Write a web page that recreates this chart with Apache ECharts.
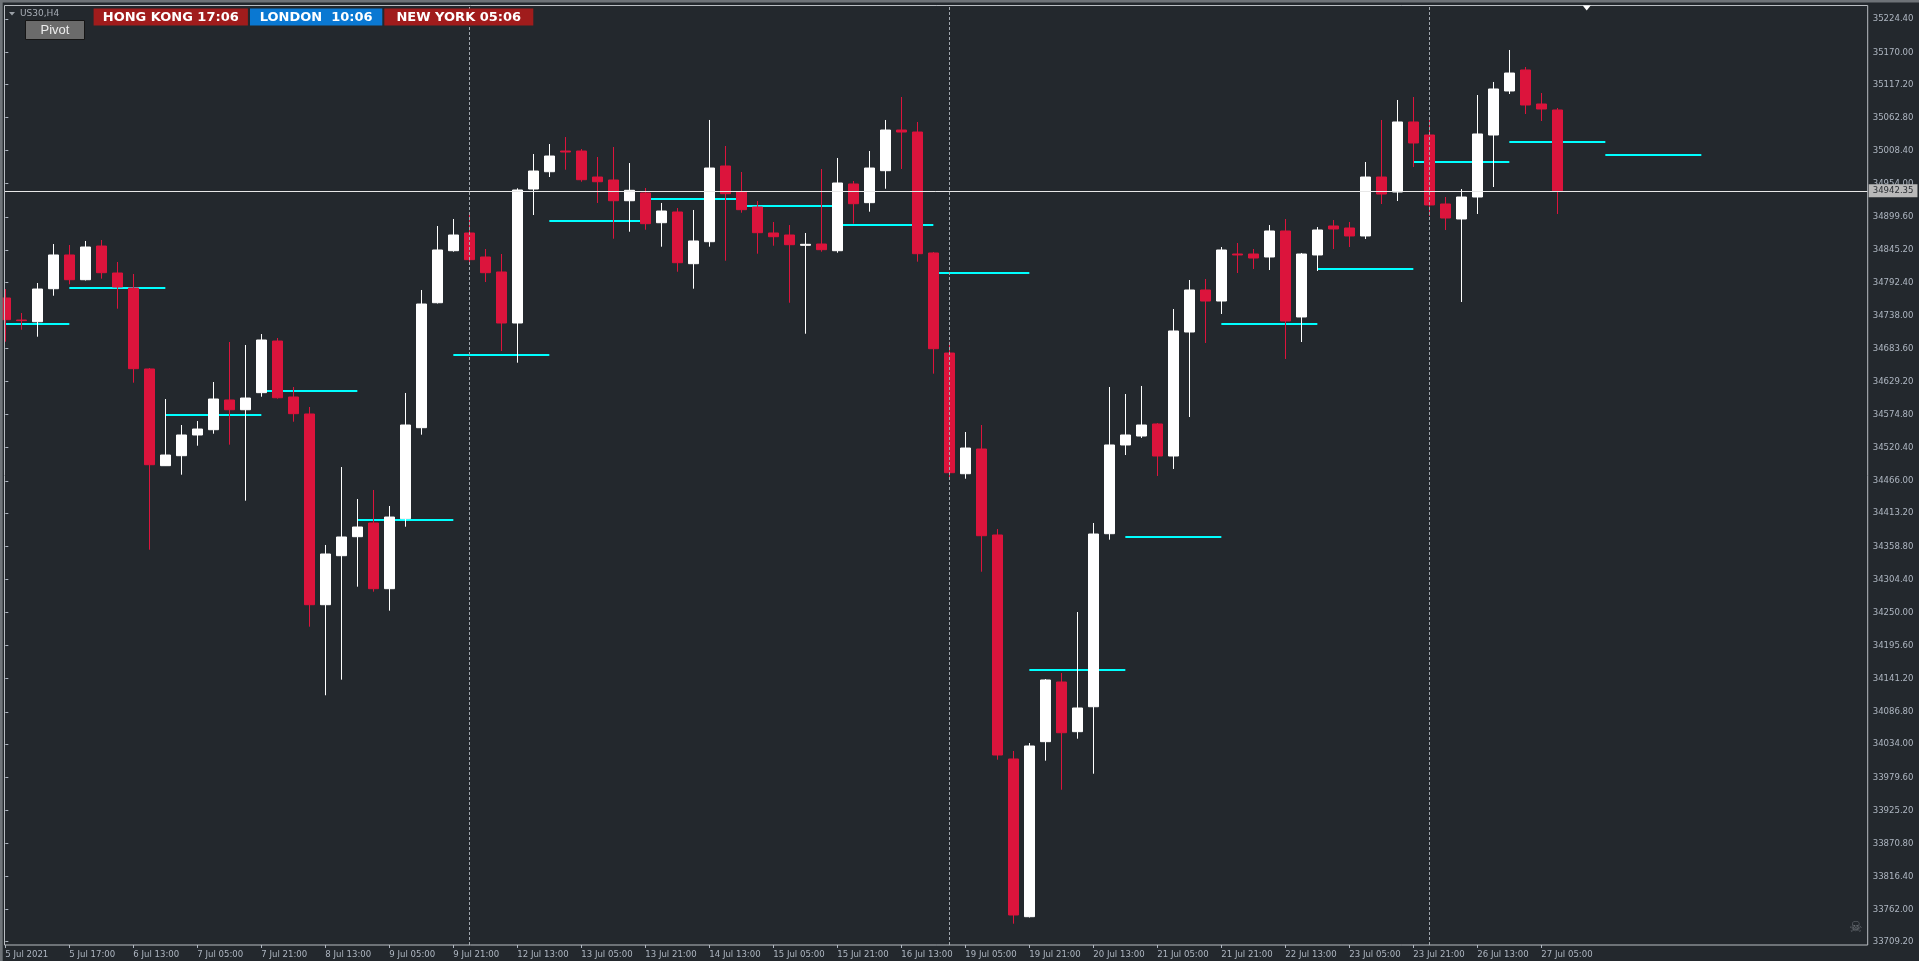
<!DOCTYPE html>
<html><head><meta charset="utf-8">
<script src="https://cdn.jsdelivr.net/npm/echarts@6/dist/echarts.min.js"></script>
<style>html,body{margin:0;padding:0;background:#23282d;overflow:hidden}#c{width:1919px;height:961px}</style>
</head><body><div id="c"></div>
<script>
// ---- data (US30, H4) ----
const opens = [34766.3,34730.1,34727.3,34781.5,34836.9,34796.3,34851.6,34807.3,34782.7,34649.7,
34490.9,34507.3,34541.3,34550.0,34598.8,34582.8,34610.8,34695.6,34603.7,34575.8,
34262.6,34343.1,34374.3,34396.8,34288.9,34403.8,34553.3,34758.5,34843.9,34873.0,
34833.6,34809.0,34725.2,34945.2,34973.6,35007.6,35007.6,34964.9,34960.0,34926.0,
34938.7,34889.9,34907.5,34822.6,34858.7,34983.0,34940.3,34915.7,34873.0,34869.7,
34852.8,34854.9,34843.9,34953.5,34922.8,34975.3,35042.1,35038.8,34840.2,34675.9,
34477.7,34518.3,34377.1,34009.3,33750.3,34037.7,34135.7,34054.1,34095.1,34379.2,
34524.9,34539.6,34559.4,34506.8,34710.4,34779.4,34761.3,34838.5,34838.5,34833.6,
34876.3,34735.1,34836.9,34884.5,34881.2,34868.1,34964.9,34940.3,35055.3,35033.9,
34920.6,34896.0,34932.1,35033.9,35106.2,35140.7,35084.8,35075.0];
const closes = [34730.6,34729.1,34781.0,34836.9,34796.3,34850.0,34807.8,34784.3,34650.2,34492.5,
34508.4,34541.3,34551.1,34600.4,34582.8,34602.0,34697.3,34602.5,34576.3,34262.6,
34345.9,34373.8,34390.2,34288.9,34406.6,34557.7,34756.4,34845.1,34869.7,34829.2,
34807.8,34725.2,34943.6,34974.8,34999.4,35006.0,34960.5,34957.2,34926.0,34943.1,
34888.3,34909.1,34824.2,34859.9,34979.7,34937.5,34911.3,34873.5,34866.9,34853.8,
34854.4,34845.6,34955.1,34921.1,34979.7,35042.1,35038.8,34839.0,34683.0,34479.4,
34519.9,34375.9,34015.8,33753.1,34030.6,34139.0,34052.4,34093.0,34378.7,34524.9,
34541.3,34557.7,34506.8,34712.1,34779.4,34761.3,34845.1,34836.9,34831.9,34876.3,
34728.5,34838.5,34877.9,34879.6,34868.1,34964.9,34937.0,35055.3,35020.8,34919.0,
34897.6,34932.1,35035.6,35109.5,35135.7,35083.2,35076.6,34942.35];
const lows = [34694.5,34714.2,34702.7,34770.0,34788.8,34795.0,34798.0,34748.7,34627.2,34352.9,
34490.4,34476.1,34523.7,34543.4,34525.4,34433.4,34604.2,34600.9,34563.1,34226.5,
34113.9,34139.5,34292.2,34284.0,34252.8,34390.7,34541.8,34757.2,34842.3,34825.4,
34792.5,34679.2,34660.0,34902.5,34964.9,34976.9,34957.2,34922.3,34863.6,34875.1,
34878.4,34850.5,34809.4,34781.5,34850.5,34827.5,34906.3,34839.0,34852.1,34758.5,
34707.6,34842.3,34840.6,34888.3,34908.0,34945.7,34978.1,34825.9,34642.0,34467.4,
34469.5,34316.8,34008.1,33738.8,33749.0,34006.5,33958.8,34042.6,33985.1,34369.4,
34508.4,34536.4,34474.0,34485.5,34570.8,34692.4,34740.0,34807.3,34813.9,34812.2,
34666.1,34694.0,34810.6,34846.7,34850.0,34863.1,34920.6,34925.5,34981.4,34900.9,
34877.9,34759.7,34904.2,34948.5,35101.2,35068.4,35056.9,34904.2];
const highs = [34781.0,34741.6,34790.9,34854.9,34853.3,34859.9,34861.5,34825.4,34805.7,34651.3,
34600.4,34557.7,34564.3,34628.3,34694.0,34689.1,34707.1,34700.6,34620.1,34587.3,
34360.7,34488.7,34436.2,34451.0,34424.7,34610.3,34779.4,34884.5,34896.0,34905.8,
34846.7,34838.5,34946.4,35002.7,35019.1,35030.6,35010.9,34997.8,35014.2,34987.9,
34946.9,34922.3,34914.0,34910.8,35058.6,35015.9,34973.2,34925.5,34891.1,34886.1,
34873.0,34978.1,34996.2,34958.4,35007.6,35058.6,35096.3,35055.3,34841.8,34694.5,
34546.2,34557.7,34386.9,34022.4,34035.5,34140.6,34150.5,34250.6,34396.8,34620.1,
34608.6,34621.8,34561.0,34748.2,34795.8,34797.5,34850.0,34856.6,34846.7,34886.1,
34896.0,34840.2,34882.8,34894.3,34891.1,34989.6,35058.6,35091.4,35096.3,35061.8,
34932.1,34945.2,35099.6,35121.0,35173.5,35145.6,35102.9,35078.3];

const xTickIndex = [0,4,8,12,16,20,24,28,32,36,40,44,48,52,56,60,64,68,72,76,80,84,88,92,96];
const xTickLabels = ["5 Jul 2021","5 Jul 17:00","6 Jul 13:00","7 Jul 05:00","7 Jul 21:00","8 Jul 13:00",
"9 Jul 05:00","9 Jul 21:00","12 Jul 13:00","13 Jul 05:00","13 Jul 21:00","14 Jul 13:00","15 Jul 05:00",
"15 Jul 21:00","16 Jul 13:00","19 Jul 05:00","19 Jul 21:00","20 Jul 13:00","21 Jul 05:00","21 Jul 21:00",
"22 Jul 13:00","23 Jul 05:00","23 Jul 21:00","26 Jul 13:00","27 Jul 05:00"];
const yTickValues = [35224.40,35170.00,35117.20,35062.80,35008.40,34954.00,34899.60,34845.20,34792.40,
34738.00,34683.60,34629.20,34574.80,34520.40,34466.00,34413.20,34358.80,34304.40,34250.00,34195.60,
34141.20,34086.80,34034.00,33979.60,33925.20,33870.80,33816.40,33762.00,33709.20];

const pivotStart = [-2,4,10,16,22,28,34,40,46,52,58,64,70,76,82,88,94,100];
const pivotEnd   = [4,10,16,22,28,34,40,46,52,58,64,70,76,82,88,94,100,106];
const pivotPrice = [34723.6,34783.2,34574.1,34614.0,34402.2,34673.2,34892.7,34928.8,34917.3,
34886.1,34807.3,34155.4,34373.8,34723.6,34813.9,34989.6,35022.4,35000.4];

const separators = [29,59,89];
const lastPrice = 34942.35;
const symbolLabel = "US30,H4";
const buttonLabel = "Pivot";
const clockLabels = ["HONG KONG 17:06", "LONDON  10:06", "NEW YORK 05:06"];

// ---- chart ----
const NARROW = "'DejaVu Sans Condensed','Liberation Sans Narrow',sans-serif";
const AX = '#aeb6c1';
const chart = echarts.init(document.getElementById('c'), null, {renderer:'canvas', width:1919, height:961});
const candleData = opens.map((o,i)=>[i,o,closes[i],lows[i],highs[i]]);
const pivotData = pivotPrice.map((p,i)=>[pivotStart[i], pivotEnd[i], p]);

const clockBoxes = [
  {x:93.6, w:154.3, fill:'#a01c1c'},
  {x:250, w:132.3, fill:'#0a78d2'},
  {x:384.3, w:149, fill:'#a01c1c'}
];
const graphics = [
  {type:'rect', shape:{x:0,y:0,width:1919,height:2.5}, style:{fill:'#6e7378'}, z:200, silent:true},
  {type:'rect', shape:{x:0,y:0,width:2.7,height:961}, style:{fill:'#6e7378'}, z:200, silent:true},
  {type:'rect', shape:{x:4.5,y:5.5,width:1863.2,height:939.5}, style:{fill:null, stroke:'#b9bdc2', lineWidth:1}, z:150, silent:true},
  {type:'polygon', shape:{points:[[9,12],[15,12],[12,15.5]]}, style:{fill:'#9aa0a6'}, z:200, silent:true},
  {type:'text', x:20, y:14, style:{text:symbolLabel, fill:'#a7adb5', font:"9px 'DejaVu Sans'", verticalAlign:'middle'}, z:200, silent:true},
  {type:'rect', shape:{x:25.5,y:20.5,width:59,height:19}, style:{fill:'#6b6b6b', stroke:'#151515', lineWidth:1}, z:200, silent:true},
  {type:'text', x:55, y:30.5, style:{text:buttonLabel, fill:'#ececec', font:"13px 'Liberation Sans'", align:'center', verticalAlign:'middle'}, z:201, silent:true},
  {type:'polygon', shape:{points:[[1582.7,5.5],[1590.7,5.5],[1586.7,10.5]]}, style:{fill:'#ffffff'}, z:200, silent:true},
  {type:'text', x:1855.7, y:928, style:{text:'\u2620', fill:'#6a6f75', font:"15px 'DejaVu Sans'", align:'center', verticalAlign:'middle'}, z:200, silent:true}
];
clockBoxes.forEach((b,i)=>{
  graphics.push({type:'rect', shape:{x:b.x,y:8.5,width:b.w,height:17}, style:{fill:b.fill}, z:200, silent:true});
  graphics.push({type:'text', x:b.x+b.w/2, y:17.2, style:{text:clockLabels[i], fill:'#ffffff', font:"bold 13px 'DejaVu Sans'", align:'center', verticalAlign:'middle'}, z:201, silent:true});
});

const option = {
  backgroundColor:'#23282d',
  animation:false,
  grid:{left:4, right:51.3, top:5.5, bottom:16, show:false},
  xAxis:{
    type:'value', min:-0.0833, max:116.398,
    axisLine:{show:false}, splitLine:{show:false},
    axisTick:{show:true, customValues:xTickIndex, length:3, lineStyle:{color:AX}},
    axisLabel:{customValues:xTickIndex, align:'left', margin:5, color:AX, fontFamily:NARROW, fontSize:9.5,
      formatter:(v)=>{const k=xTickIndex.indexOf(Math.round(v)); return k>=0?xTickLabels[k]:'';}}
  },
  yAxis:{
    type:'value', position:'right', min:33703.82, max:35246.57,
    axisLine:{show:false}, splitLine:{show:false},
    axisTick:{show:true, customValues:yTickValues, length:3, lineStyle:{color:AX}},
    axisLabel:{customValues:yTickValues, margin:5, color:AX, fontFamily:NARROW, fontSize:9.5,
      formatter:(v)=>Number(v).toFixed(2)}
  },
  series:[
    {
      type:'custom', z:1, silent:true, clip:true,
      data:pivotData, encode:{x:[0,1], y:2},
      renderItem:(params, api)=>{
        const a = api.coord([api.value(0), api.value(2)]);
        const b = api.coord([api.value(1), api.value(2)]);
        const y = Math.round(a[1]);
        return {type:'line', shape:{x1:a[0], y1:y, x2:b[0], y2:y}, style:{stroke:'#00ffff', lineWidth:2}};
      }
    },
    {
      type:'line', z:2, data:[], silent:true,
      markLine:{
        silent:true, symbol:['none','none'], animation:false,
        data:[
          ...separators.map(s=>({xAxis:s, label:{show:false}, lineStyle:{color:'#a3a9b0', type:[3,2], width:1}})),
          {yAxis:lastPrice, lineStyle:{color:'#e8e8e8', type:'solid', width:1},
           label:{show:true, position:'end', distance:1, formatter:lastPrice.toFixed(2),
             color:'#2a2e33', backgroundColor:'#b9b9b9', padding:[2,4,1,4], fontFamily:NARROW, fontSize:9.5}}
        ]
      }
    },
    {
      type:'candlestick', z:3, silent:true,
      data:candleData, encode:{x:0, y:[1,2,3,4]},
      barWidth:10,
      itemStyle:{color:'#ffffff', color0:'#dc143c', borderColor:'#ffffff', borderColor0:'#dc143c', borderWidth:1}
    }
  ],
  graphic:{elements:graphics}
};
chart.setOption(option);
</script>
</body></html>
